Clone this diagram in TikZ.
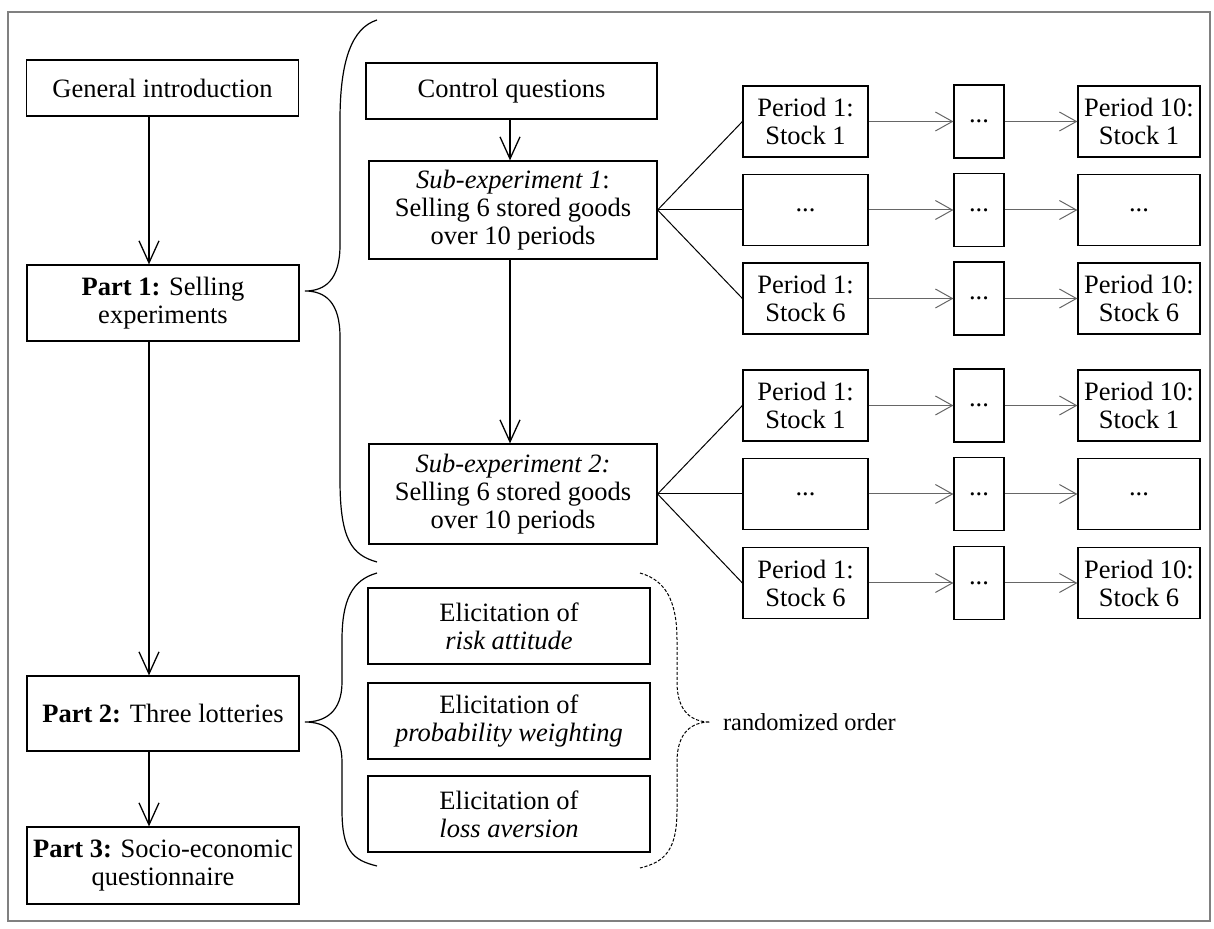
\documentclass[tikz,border=0pt]{standalone}
\usepackage{fontspec}
\setmainfont{Liberation Serif}
\usepackage{tikz}
\usetikzlibrary{arrows.meta, positioning}
\tikzset{
    block/.style={rectangle, draw, line width=0.6pt, align=center, inner sep=0pt},
    part/.style={block, minimum width=136pt},
    sub/.style={block, minimum width=144pt},
    elic/.style={block, minimum width=141pt, minimum height=38pt},
    period/.style={block, minimum height=35.5pt},
    dots/.style={block, minimum width=25pt, minimum height=36.5pt},
    arrow/.style={line width=0.65pt, -{Straight Barb[length=11pt, width=10pt]}},
    thinarrow/.style={line width=0.5pt, black!60, -{Straight Barb[length=8.5pt, width=9.5pt]}},
    fan/.style={line width=0.5pt},
    brace/.style={line width=0.6pt},
    dashbrace/.style={line width=0.5pt, dash pattern=on 1.6pt off 0.9pt}
}

\begin{document}
\begin{tikzpicture}[x=0.5pt, y=-0.5pt, font=\fontsize{13.25pt}{14pt}\selectfont]
        \useasboundingbox (0,0) rectangle (1214,929);
        \draw[black!50, line width=0.6pt] (8,12) rectangle (1210,921);

        % Left column
        \coordinate (trunk) at (149,0);
        \node (intro) [part, minimum height=28pt] at (162.5,88) {General introduction};
        \node (part1) [part, minimum height=38pt] at (163,303) {\textbf{Part 1:} Selling\\experiments};
        \node (part2) [part, minimum height=37.5pt] at (163,713.5) {\textbf{Part 2:} Three lotteries};
        \node (part3) [part, minimum height=38.5pt] at (163,865.5) {\textbf{Part 3:} Socio-economic\\questionnaire};

        \draw[arrow] (intro.south -| trunk) -- (part1.north -| trunk);
        \draw[arrow] (part1.south -| trunk) -- (part2.north -| trunk);
        \draw[arrow] (part2.south -| trunk) -- (part3.north -| trunk);

        % Selling experiments
        \coordinate (spine) at (510,0);
        \node (control) [sub, minimum width=145.5pt, minimum height=28pt] at (511.5,91) {Control questions};
        \node (sub1) [sub, minimum height=49pt] at (513,210) {\textit{Sub-experiment 1}:\\Selling 6 stored goods\\over 10 periods};
        \node (sub2) [sub, minimum height=50pt] at (513,494) {\textit{Sub-experiment 2:}\\Selling 6 stored goods\\over 10 periods};

        \draw[arrow] (control.south -| spine) -- (sub1.north -| spine);
        \draw[arrow] (sub1.south -| spine) -- (sub2.north -| spine);

        % Periods and stocks
        \foreach \r/\y/\ta/\tc in {1/121.5/{Period 1:\\Stock 1}/{Period 10:\\Stock 1},
                                   2/210/{...}/{...},
                                   3/298.5/{Period 1:\\Stock 6}/{Period 10:\\Stock 6},
                                   4/405.5/{Period 1:\\Stock 1}/{Period 10:\\Stock 1},
                                   5/494/{...}/{...},
                                   6/583/{Period 1:\\Stock 6}/{Period 10:\\Stock 6}} {
            \node (a\r) [period, minimum width=62.5pt] at (805.5,\y) {\ta};
            \node (b\r) [dots] at (979,\y) {...};
            \node (c\r) [period, minimum width=61pt] at (1139,\y) {\tc};
            \draw[thinarrow] (a\r) -- (b\r);
            \draw[thinarrow] (b\r) -- (c\r);
        }
        \foreach \r in {1,2,3} \draw[fan] (sub1.east) -- (a\r.west);
        \foreach \r in {4,5,6} \draw[fan] (sub2.east) -- (a\r.west);

        % Lotteries
        \node (risk) [elic] at (509,626) {Elicitation of\\\textit{risk attitude}};
        \node (prob) [elic] at (509,721) {Elicitation of\\\textit{probability weighting}};
        \node (loss) [elic] at (509,814) {Elicitation of\\\textit{loss aversion}};
        \node (order) [anchor=west, font=\fontsize{12.2pt}{13pt}\selectfont] at (716,722) {randomized order};

        % Braces
        \draw[brace] (377,20) .. controls (352,28) and (340,60) .. (340,120) -- (340,245)
            .. controls (340,280) and (325,291) .. (305,291)
            .. controls (325,291) and (340,302) .. (340,337) -- (340,480)
            .. controls (340,540) and (352,555) .. (377,562);
        \draw[brace] (377,573) .. controls (352,580) and (342,600) .. (342,640) -- (342,682)
            .. controls (342,712) and (325,722) .. (305,722)
            .. controls (325,722) and (342,732) .. (342,762) -- (342,810)
            .. controls (342,850) and (352,860) .. (377,866);
        \draw[dashbrace] (640,573) .. controls (665,580) and (677,600) .. (677,640) -- (677,682)
            .. controls (677,712) and (692,722) .. (710,722)
            .. controls (692,722) and (677,732) .. (677,762) -- (677,810)
            .. controls (677,850) and (665,862) .. (640,868);
    \end{tikzpicture}
\end{document}
